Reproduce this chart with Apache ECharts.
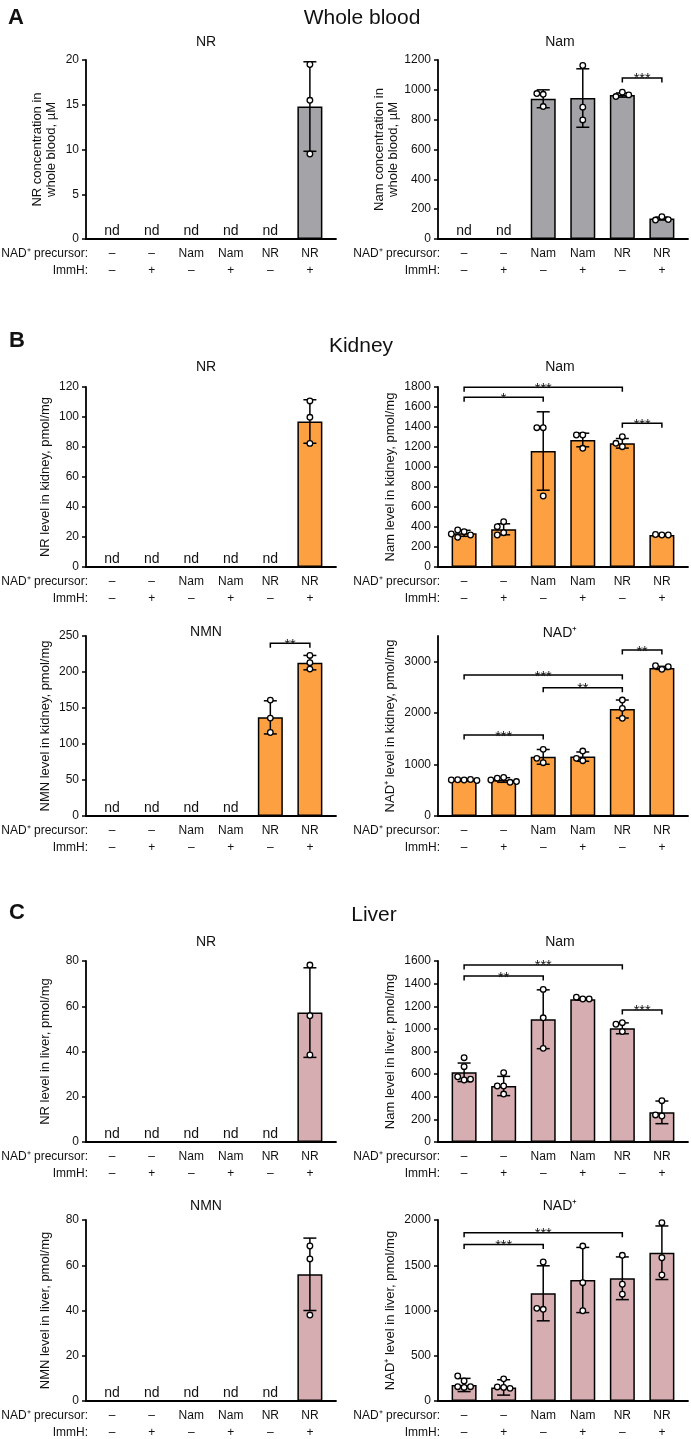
<!DOCTYPE html>
<html><head><meta charset="utf-8">
<script src="https://cdn.jsdelivr.net/npm/echarts@6/dist/echarts.min.js"></script>
<style>html,body{margin:0;padding:0;background:#fff}#c{width:691px;height:1439px}</style>
</head><body><div id="c"></div>
<script>
// ---------- categories ----------
const precursorLabels = ['–','–','Nam','Nam','NR','NR'];
const immhLabels = ['–','+','–','+','–','+'];

// ---------- A: whole blood ----------
const bloodNR_mean = [null,null,null,null,null,14.8];
const bloodNR_sd   = [null,null,null,null,null,5.0];
const bloodNR_pts  = [[],[],[],[],[],[19.5,15.5,9.5]];
const bloodNR_sig  = [];

const bloodNam_mean = [null,null,940,945,965,137];
const bloodNam_sd   = [null,null,60,196,14,10];
const bloodNam_pts  = [[],[],[970,975,888],[1163,884,798],[984,955,966],[150,127,130]];
const bloodNam_sig  = [[4,5,1080,'***']];

// ---------- B: kidney ----------
const kidNR_mean = [null,null,null,null,null,97];
const kidNR_sd   = [null,null,null,null,null,14.5];
const kidNR_pts  = [[],[],[],[],[],[110.7,99.8,82.4]];
const kidNR_sig  = [];

const kidNam_mean = [337,377,1160,1270,1237,320];
const kidNam_sd   = [30,55,392,68,48,6];
const kidNam_pts  = [[353,370,297,320,330],[453,403,343,320],[1393,1393,710],[1320,1320,1187],[1303,1203,1237],[320,325,320]];
const kidNam_sig  = [[0,4,1797,'***'],[0,2,1697,'*'],[4,5,1437,'***']];

const kidNMN_mean = [null,null,null,null,137,213];
const kidNMN_sd   = [null,null,null,null,23,10];
const kidNMN_pts  = [[],[],[],[],[161,136,116],[223,213,204]];
const kidNMN_sig  = [[4,5,240,'**']];

const kidNAD_mean = [700,700,1150,1155,2080,2880];
const kidNAD_sd   = [15,45,143,90,175,30];
const kidNAD_pts  = [[700,705,710,700,690],[750,735,655,700,670],[1296,1036,1121],[1263,1075,1121],[2255,2093,1899],[2852,2922,2903]];
const kidNAD_sig  = [[4,5,3227,'**'],[0,4,2741,'***'],[2,4,2494,'**'],[0,2,1575,'***']];

// ---------- C: liver ----------
const livNR_mean = [null,null,null,null,null,57.2];
const livNR_sd   = [null,null,null,null,null,19.8];
const livNR_pts  = [[],[],[],[],[],[78.2,55.8,38.5]];
const livNR_sig  = [];

const livNam_mean = [616,495,1085,1262,1005,262];
const livNam_sd   = [82,85,260,8,48,100];
const livNam_pts  = [[745,666,548,577,555],[613,495,495,424],[1349,1098,828],[1264,1280,1264],[1055,1041,976],[365,230,239]];
const livNam_sig  = [[0,4,1565,'***'],[0,2,1467,'**'],[4,5,1167,'***']];

const livNMN_mean = [null,null,null,null,null,56];
const livNMN_sd   = [null,null,null,null,null,16];
const livNMN_pts  = [[],[],[],[],[],[68.5,62.8,38]];
const livNMN_sig  = [];

const livNAD_mean = [177,150,1190,1337,1356,1638];
const livNAD_sd   = [73,85,304,360,236,296];
const livNAD_pts  = [[221,276,158,150,158],[245,150,155,140],[1536,1013,1024],[1712,1307,997],[1610,1290,1180],[1970,1583,1392]];
const livNAD_sig  = [[0,4,1858,'***'],[0,2,1729,'***']];

// ---------- axis settings (values) ----------
const yMaxes = [20,1200,120,1800,250,3500,80,1600,80,2000];
const ySteps = [5,200,20,200,50,1000,20,200,20,500];
const yTickVals = [null,null,null,null,null,[0,1000,2000,3000],null,null,null,null];
const titles = ['NR','Nam','NR','Nam','NMN','NAD⁺','NR','Nam','NMN','NAD⁺'];
const yNames = ['NR concentration in\nwhole blood, µM','Nam concentration in\nwhole blood, µM',
  'NR level in kidney, pmol/mg','Nam level in kidney, pmol/mg','NMN level in kidney, pmol/mg','NAD⁺ level in kidney, pmol/mg',
  'NR level in liver, pmol/mg','Nam level in liver, pmol/mg','NMN level in liver, pmol/mg','NAD⁺ level in liver, pmol/mg'];

const GRAY='#a3a3a8', ORANGE='#fda042', PINK='#d6adb1';
const panels = [
  {mean:bloodNR_mean, sd:bloodNR_sd, pts:bloodNR_pts, sig:bloodNR_sig, color:GRAY},
  {mean:bloodNam_mean, sd:bloodNam_sd, pts:bloodNam_pts, sig:bloodNam_sig, color:GRAY},
  {mean:kidNR_mean, sd:kidNR_sd, pts:kidNR_pts, sig:kidNR_sig, color:ORANGE},
  {mean:kidNam_mean, sd:kidNam_sd, pts:kidNam_pts, sig:kidNam_sig, color:ORANGE},
  {mean:kidNMN_mean, sd:kidNMN_sd, pts:kidNMN_pts, sig:kidNMN_sig, color:ORANGE},
  {mean:kidNAD_mean, sd:kidNAD_sd, pts:kidNAD_pts, sig:kidNAD_sig, color:ORANGE},
  {mean:livNR_mean, sd:livNR_sd, pts:livNR_pts, sig:livNR_sig, color:PINK},
  {mean:livNam_mean, sd:livNam_sd, pts:livNam_pts, sig:livNam_sig, color:PINK},
  {mean:livNMN_mean, sd:livNMN_sd, pts:livNMN_pts, sig:livNMN_sig, color:PINK},
  {mean:livNAD_mean, sd:livNAD_sd, pts:livNAD_pts, sig:livNAD_sig, color:PINK}
];

// ---------- layout ----------
const layout = [
  {left:86, top:60, height:179, gap:28, ty:42},
  {left:438, top:60, height:179, gap:38, ty:42},
  {left:86, top:387, height:180, gap:34, ty:367},
  {left:438, top:387, height:180, gap:41, ty:367},
  {left:86, top:636, height:180, gap:34, ty:632},
  {left:438, top:636, height:180, gap:41, ty:633},
  {left:86, top:961, height:181, gap:34, ty:942},
  {left:438, top:961, height:181, gap:41, ty:942},
  {left:86, top:1220, height:181, gap:34, ty:1206},
  {left:438, top:1220, height:181, gap:41, ty:1206}
];
const FONT = '"Liberation Sans", Arial, Helvetica, sans-serif';
const XMIN = -0.66, XMAX = 5.66, GW = 250;
const INK = '#000';

function txt(x, y, text, size, align, valign, weight) {
  return {type:'text', x:x, y:y, style:{text:text, fill:'#111', font:(weight||'normal')+' '+size+'px '+FONT,
    align:align, verticalAlign:valign, textAlign:align, textVerticalAlign:valign}};
}

function swarm(api, xi, vals, d) {
  const cx = api.coord([xi, 0])[0];
  const placed = [];
  const cands = [0,-1,1,-2,2,-3,3];
  vals.forEach(v => {
    const py = api.coord([xi, v])[1];
    for (const c of cands) {
      const px = cx + c * d;
      if (placed.every(p => Math.hypot(p[0]-px, p[1]-py) >= d - 0.01)) { placed.push([px, py]); break; }
    }
  });
  return placed;
}

const grids=[], xAxes=[], yAxes=[], series=[], graphics=[];
panels.forEach((p, k) => {
  const L = layout[k];
  grids.push({left:L.left, top:L.top, width:GW, height:L.height, containLabel:false});
  xAxes.push({type:'value', gridIndex:k, min:XMIN, max:XMAX,
    axisLine:{show:true, onZero:false, lineStyle:{color:INK, width:1.8}},
    axisTick:{show:false}, axisLabel:{show:false}, splitLine:{show:false}});
  const yl = {fontFamily:FONT, fontSize:12, color:'#111', margin:7, formatter:v => String(v)};
  const yt = {show:true, length:4, lineStyle:{color:INK, width:1.5}};
  if (yTickVals[k]) { yl.customValues = yTickVals[k]; yt.customValues = yTickVals[k]; }
  yAxes.push({type:'value', gridIndex:k, min:0, max:yMaxes[k], interval:ySteps[k],
    name:yNames[k], nameLocation:'middle', nameGap:L.gap,
    nameTextStyle:{fontFamily:FONT, fontSize:13, color:'#111', lineHeight:14},
    axisLine:{show:true, onZero:false, lineStyle:{color:INK, width:1.8}}, axisTick:yt, axisLabel:yl, splitLine:{show:false}});

  // bars
  series.push({type:'bar', xAxisIndex:k, yAxisIndex:k, barWidth:25, z:2, silent:true,
    data:p.mean.map((m,i)=> m==null ? null : [i,m]).filter(Boolean),
    itemStyle:{color:p.color, borderColor:INK, borderWidth:1.5}});

  // error bars + points
  series.push({type:'custom', xAxisIndex:k, yAxisIndex:k, z:5, silent:true, clip:false,
    data:p.mean.map((m,i)=>[i, m==null?0:m]),
    renderItem:(params, api) => {
      const i = params.dataIndex; const m = p.mean[i];
      if (m == null) return null;
      const c = api.coord([i, m]);
      const top = api.coord([i, m + p.sd[i]]);
      const bot = api.coord([i, Math.max(0, m - p.sd[i])]);
      const cap = 6.5, ls = {stroke:INK, lineWidth:1.5};
      const ch = [
        {type:'line', shape:{x1:c[0], y1:top[1], x2:c[0], y2:bot[1]}, style:ls},
        {type:'line', shape:{x1:c[0]-cap, y1:top[1], x2:c[0]+cap, y2:top[1]}, style:ls},
        {type:'line', shape:{x1:c[0]-cap, y1:bot[1], x2:c[0]+cap, y2:bot[1]}, style:ls}
      ];
      swarm(api, i, p.pts[i], 6.4).forEach(pt => ch.push({type:'circle', shape:{cx:pt[0], cy:pt[1], r:2.8},
        style:{fill:'#fff', stroke:INK, lineWidth:1.3}}));
      return {type:'group', children:ch};
    }});

  // significance brackets
  if (p.sig.length) series.push({type:'custom', xAxisIndex:k, yAxisIndex:k, z:6, silent:true, clip:false,
    data:p.sig.map(b=>[b[0], b[2]]),
    renderItem:(params, api) => {
      const b = p.sig[params.dataIndex];
      const a = api.coord([b[0], b[2]]), e = api.coord([b[1], b[2]]);
      return {type:'group', children:[
        {type:'polyline', shape:{points:[[a[0],a[1]+4.5],[a[0],a[1]],[e[0],a[1]],[e[0],a[1]+4.5]]},
          style:{stroke:INK, lineWidth:1.5, fill:null}},
        txt((a[0]+e[0])/2, a[1]+1.5, b[3], 14.5, 'center', 'middle')
      ]};
    }});

  // category labels and nd
  series.push({type:'custom', xAxisIndex:k, yAxisIndex:k, z:6, silent:true, clip:false,
    data:precursorLabels.map((_,i)=>[i,0]),
    renderItem:(params, api) => {
      const i = params.dataIndex;
      const c = api.coord([i, 0]);
      const ch = [
        txt(c[0], c[1]+14.5, precursorLabels[i], 12, 'center', 'middle'),
        txt(c[0], c[1]+32, immhLabels[i], 12, 'center', 'middle')
      ];
      if (p.mean[i] == null) ch.push(txt(c[0], c[1]-1, 'nd', 14, 'center', 'bottom'));
      if (i === 0) {
        const x0 = api.coord([XMIN, 0])[0] + 2;
        ch.push(txt(x0, c[1]+14.5, 'NAD⁺ precursor:', 12, 'right', 'middle'));
        ch.push(txt(x0, c[1]+32, 'ImmH:', 12, 'right', 'middle'));
      }
      return {type:'group', children:ch};
    }});

  graphics.push(txt(L.left < 200 ? 206 : 560, L.ty, titles[k], 14, 'center', 'middle'));
});

// section headings
graphics.push(txt(8, 18, 'A', 22, 'left', 'middle', 'bold'));
graphics.push(txt(362, 18, 'Whole blood', 21, 'center', 'middle'));
graphics.push(txt(9, 341, 'B', 22, 'left', 'middle', 'bold'));
graphics.push(txt(361, 346, 'Kidney', 21, 'center', 'middle'));
graphics.push(txt(9, 913, 'C', 22, 'left', 'middle', 'bold'));
graphics.push(txt(374, 915, 'Liver', 21, 'center', 'middle'));

const chart = echarts.init(document.getElementById('c'), null, {renderer:'canvas', width:691, height:1439});
chart.setOption({animation:false, backgroundColor:'#fff', grid:grids, xAxis:xAxes, yAxis:yAxes, series:series, graphic:graphics});
</script></body></html>
